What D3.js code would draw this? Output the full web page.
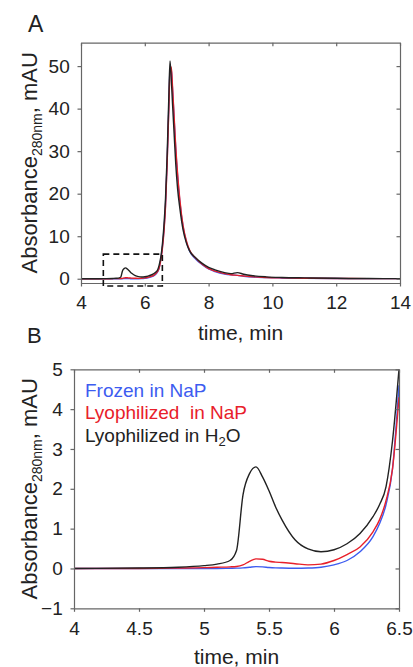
<!DOCTYPE html>
<html lang="en">
  <head>
    <meta charset="UTF-8" />
    <title>Absorbance chromatograms</title>
    <script src="https://cdn.jsdelivr.net/npm/d3@7/dist/d3.min.js"></script>
    <style>
      body { margin: 0; background: #fff; }
      text { font-family: 'Liberation Sans', Arial, sans-serif; fill: #222; }
    </style>
  </head>
  <body>
    <div id='app'></div>
    <script>
  // early part of the run (4 - 6.5 min), shown in both panels
  const timeLow = [4, 4.5, 4.8, 5.0, 5.1, 5.2, 5.25, 5.3, 5.35, 5.4, 5.45, 5.5, 5.55, 5.6, 5.7, 5.8, 5.9, 6.0, 6.1, 6.2, 6.3, 6.35, 6.4, 6.45, 6.5]
  const frozenLow = [0, 0, 0, 0, 0, 0.005, 0.008, 0.015, 0.03, 0.045, 0.04, 0.025, 0.015, 0.01, 0.005, 0.01, 0.03, 0.09, 0.2, 0.42, 0.8, 1.12, 1.6, 2.5, 4.6]
  const lyoNaPLow = [0, 0, 0.01, 0.02, 0.03, 0.04, 0.05, 0.09, 0.18, 0.24, 0.23, 0.18, 0.16, 0.15, 0.12, 0.09, 0.11, 0.2, 0.35, 0.54, 0.92, 1.22, 1.7, 2.5, 4.3]
  const lyoH2OLow = [0, 0.01, 0.03, 0.07, 0.11, 0.2, 0.45, 1.85, 2.38, 2.55, 2.3, 1.95, 1.55, 1.22, 0.72, 0.49, 0.42, 0.47, 0.62, 0.88, 1.3, 1.6, 2.05, 3.2, 5.0]

  // rest of the run (after 6.5 min), panel A only
  const timeHigh = [6.55, 6.6, 6.65, 6.7, 6.75, 6.79, 6.83, 6.87, 6.92, 6.97, 7.03, 7.1, 7.2, 7.3, 7.4, 7.6, 7.8, 8.0, 8.2, 8.5, 8.7, 8.9, 9.1, 9.4, 9.8, 10.3, 11, 12, 13, 14]
  const frozenHigh = [7.3, 11.5, 17.5, 27.5, 40, 49, 49.3, 44.5, 37.5, 30.5, 24, 18, 12.2, 8.8, 6.6, 4.6, 3.3, 2.3, 1.7, 1.1, 0.9, 0.8, 0.6, 0.4, 0.28, 0.18, 0.1, 0.05, 0.03, 0.02]
  const lyoNaPHigh = [7, 11, 17, 27, 39, 48.5, 49.8, 45, 38, 31, 24.5, 18.5, 12.5, 9, 6.8, 4.8, 3.4, 2.4, 1.8, 1.2, 0.95, 0.8, 0.65, 0.45, 0.3, 0.2, 0.12, 0.06, 0.03, 0.02]
  const lyoH2OHigh = [8, 12.5, 19, 29, 42, 51.2, 47, 41, 34, 27, 21, 16.5, 11.5, 8.5, 6.6, 4.9, 3.6, 2.7, 2.1, 1.45, 1.2, 1.45, 1.05, 0.7, 0.45, 0.3, 0.2, 0.1, 0.05, 0.02]

  const seriesNames = ['Frozen in NaP', 'Lyophilized  in NaP', 'Lyophilized in H2O']
  const seriesColors = ['#3d5cf0', '#e8202a', '#222222']

  const ticksAX = [4, 6, 8, 10, 12, 14]
  const ticksAY = [0, 10, 20, 30, 40, 50]
  const ticksBX = [4, 4.5, 5, 5.5, 6, 6.5]
  const ticksBY = [-1, 0, 1, 2, 3, 4, 5]

  // zoom window drawn as dashed box in panel A
  const zoomBox = {x0: 4.7, x1: 6.55, y0: -1.7, y1: 5.8}

  const zip = (t, v) => t.map((d, i) => [d, v[i]])
  const lowSets = [frozenLow, lyoNaPLow, lyoH2OLow]
  const highSets = [frozenHigh, lyoNaPHigh, lyoH2OHigh]
  const seriesA = lowSets.map((s, i) => zip(timeLow.concat(timeHigh), s.concat(highSets[i])))
  const seriesB = lowSets.map(s => zip(timeLow, s))

  const svg = d3.select('#app').append('svg')
    .attr('width', 413)
    .attr('height', 667)

  function panel(opts) {
    const {left, right, top, bottom, xDomain, yDomain, xTicks, yTicks, data, id} = opts
    const x = d3.scaleLinear().domain(xDomain).range([left, right])
    const y = d3.scaleLinear().domain(yDomain).range([bottom, top])
    const g = svg.append('g')

    g.append('clipPath').attr('id', id)
      .append('rect')
      .attr('x', left).attr('y', top)
      .attr('width', right - left).attr('height', bottom - top)

    const line = d3.line()
      .x(d => x(d[0]))
      .y(d => y(d[1]))
      .curve(d3.curveMonotoneX)

    g.append('g').attr('clip-path', `url(#${id})`)
      .selectAll('path')
      .data(data)
      .join('path')
      .attr('d', line)
      .attr('fill', 'none')
      .attr('stroke', (d, i) => seriesColors[i])
      .attr('stroke-width', 1.4)

    const styleAxis = sel => {
      sel.select('.domain').attr('stroke', '#666').attr('stroke-width', 1.2)
      sel.selectAll('.tick line').attr('stroke', '#666').attr('stroke-width', 1.2)
    }

    // bottom + left (labels), top + right (ticks only)
    g.append('g')
      .attr('transform', `translate(0,${bottom})`)
      .call(d3.axisBottom(x).tickValues(xTicks).tickSize(3.5).tickSizeOuter(0).tickFormat(d3.format('')))
      .call(styleAxis)
      .call(s => s.selectAll('text').attr('font-size', 19).attr('fill', '#222').attr('dy', '1.05em'))
    g.append('g')
      .attr('transform', `translate(${left},0)`)
      .call(d3.axisLeft(y).tickValues(yTicks).tickSize(3.5).tickSizeOuter(0).tickFormat(d3.format('')))
      .call(styleAxis)
      .call(s => s.selectAll('text').attr('font-size', 19).attr('fill', '#222').attr('dx', '-0.25em'))
    g.append('g')
      .attr('transform', `translate(0,${top})`)
      .call(d3.axisBottom(x).tickValues(xTicks).tickSize(3.5).tickSizeOuter(0).tickFormat(''))
      .call(styleAxis)
    g.append('g')
      .attr('transform', `translate(${right},0)`)
      .call(d3.axisLeft(y).tickValues(yTicks).tickSize(3.5).tickSizeOuter(0).tickFormat(''))
      .call(styleAxis)

    // y label with subscript
    const yl = g.append('text')
      .attr('transform', `translate(37,${(top + bottom) / 2}) rotate(-90)`)
      .attr('text-anchor', 'middle')
      .attr('font-size', 22)
    yl.append('tspan').text('Absorbance')
    yl.append('tspan').attr('font-size', 14).attr('dy', 5).text('280nm')
    yl.append('tspan').attr('dy', -5).text(', mAU')

    return {g, x, y}
  }

  // panel A
  const A = panel({
    id: 'clipA', left: 81, right: 400, top: 42.7, bottom: 283,
    xDomain: [4, 14], yDomain: [-1, 55.5],
    xTicks: ticksAX, yTicks: ticksAY, data: seriesA
  })
  A.g.append('rect')
    .attr('x', A.x(zoomBox.x0)).attr('y', A.y(zoomBox.y1))
    .attr('width', A.x(zoomBox.x1) - A.x(zoomBox.x0))
    .attr('height', A.y(zoomBox.y0) - A.y(zoomBox.y1))
    .attr('fill', 'none')
    .attr('stroke', '#111')
    .attr('stroke-width', 1.6)
    .attr('stroke-dasharray', '6,4')
  A.g.append('text').attr('x', 240.5).attr('y', 340)
    .attr('text-anchor', 'middle').attr('font-size', 21).text('time, min')
  svg.append('text').attr('x', 28).attr('y', 31.5).attr('font-size', 23).text('A')

  // panel B
  const B = panel({
    id: 'clipB', left: 74, right: 399, top: 369.3, bottom: 608.3,
    xDomain: [4, 6.5], yDomain: [-1, 5],
    xTicks: ticksBX, yTicks: ticksBY, data: seriesB
  })
  B.g.append('text').attr('x', 236.5).attr('y', 664)
    .attr('text-anchor', 'middle').attr('font-size', 21).text('time, min')
  svg.append('text').attr('x', 27).attr('y', 343).attr('font-size', 22).text('B')

  // legend
  const legend = B.g.append('g')
  seriesNames.forEach((name, i) => {
    const t = legend.append('text')
      .attr('x', 85).attr('y', 396.5 + i * 22.5)
      .attr('font-size', 19)
      .style('white-space', 'pre')
      .style('fill', seriesColors[i])
    if (name.endsWith('H2O')) {
      t.append('tspan').text('Lyophilized in H')
      t.append('tspan').attr('font-size', 13).attr('dy', 4).text('2')
      t.append('tspan').attr('dy', -4).text('O')
    } else {
      t.text(name)
    }
  })
    </script>
  </body>
</html>
